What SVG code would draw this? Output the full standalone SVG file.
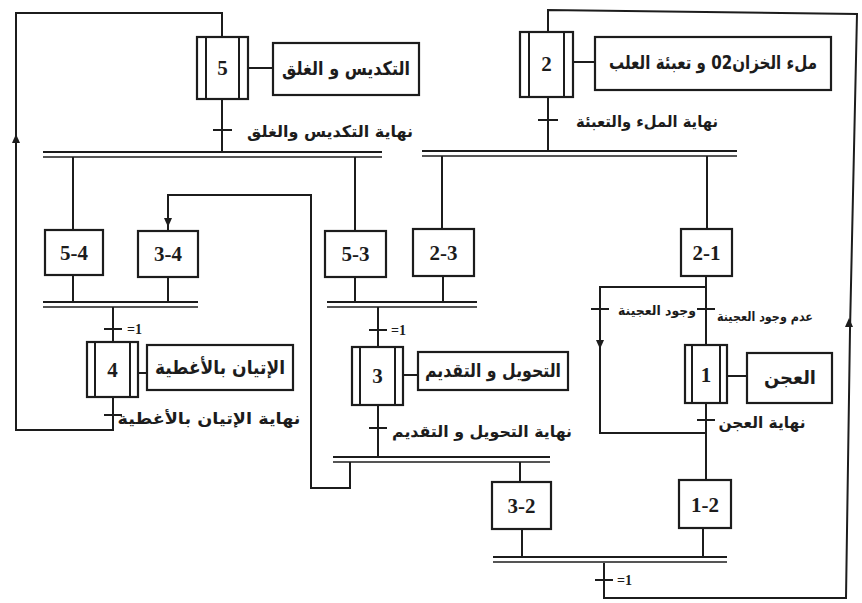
<svg xmlns="http://www.w3.org/2000/svg" width="862" height="603" viewBox="0 0 862 603">
  <defs>
    <style>
      .ln { fill: none; stroke: #1c1c1c; stroke-width: 2; }
      .box { fill: #ffffff; stroke: #1c1c1c; stroke-width: 2.2; }
      .bar { stroke: #1c1c1c; stroke-width: 2.2; }
      .bar2 { stroke: #555555; stroke-width: 2; }
      .num { font-family: "Liberation Serif", "DejaVu Serif", serif; font-weight: bold; font-size: 21px; fill: #1c1c1c; text-anchor: middle; }
      .ar { font-family: "DejaVu Sans", "Noto Sans", sans-serif; font-weight: bold; fill: #1c1c1c; text-anchor: middle; direction: rtl; }
      .act { font-size: 19px; }
      .tr { font-size: 16px; }
      .sm { font-size: 13px; }
      .eq { font-family: "Liberation Serif", serif; font-weight: bold; font-size: 14px; fill: #1c1c1c; }
    </style>
    <path id="arrUp" d="M0,-6 L4,3 L-4,3 Z" fill="#1c1c1c"/>
    <path id="arrDown" d="M0,6 L4,-3 L-4,-3 Z" fill="#1c1c1c"/>
  </defs>
  <rect width="862" height="603" fill="#ffffff"/>

  <!-- links, transitions and loops -->
  <g id="connectors">
    <!-- return loop to step 5 -->
    <path class="ln" d="M113,397 V430 H16 V13 H222 V37"/>
    <use href="#arrUp" x="16" y="140"/>
    <!-- return loop to step 2 -->
    <path class="ln" d="M604,562 V598 H846 L850,330 L857,14 L548,10 V32"/>
    <use href="#arrUp" x="849" y="324"/>
    <!-- step 5 to bar A -->
    <path class="ln" d="M222,99 V152"/>
    <path class="ln" d="M213,130 H232"/>
    <!-- bar A -->
    <line class="bar" x1="43" y1="152" x2="382" y2="152"/>
    <line class="bar2" x1="43" y1="157" x2="382" y2="157"/>
    <path class="ln" d="M73,157 V230"/>
    <path class="ln" d="M355,157 V231"/>
    <!-- step 2 to bar B -->
    <path class="ln" d="M548,97 V151"/>
    <path class="ln" d="M538,120 H558"/>
    <line class="bar" x1="422" y1="151" x2="737" y2="151"/>
    <line class="bar2" x1="422" y1="156" x2="737" y2="156"/>
    <path class="ln" d="M442,156 V229"/>
    <path class="ln" d="M707,156 V229"/>
    <!-- bar C and step 4 -->
    <path class="ln" d="M73,275 V302"/>
    <path class="ln" d="M168,277 V302"/>
    <line class="bar" x1="43" y1="302" x2="198" y2="302"/>
    <line class="bar2" x1="43" y1="307" x2="198" y2="307"/>
    <path class="ln" d="M113,307 V342"/>
    <path class="ln" d="M104,329 H122"/>
    <path class="ln" d="M104,415 H122"/>
    <!-- bar D and step 3 -->
    <path class="ln" d="M355,277 V302"/>
    <path class="ln" d="M443,276 V302"/>
    <line class="bar" x1="327" y1="302" x2="477" y2="302"/>
    <line class="bar2" x1="327" y1="307" x2="477" y2="307"/>
    <path class="ln" d="M378,307 V347"/>
    <path class="ln" d="M369,330 H387"/>
    <path class="ln" d="M378,405 V457"/>
    <path class="ln" d="M369,428 H387"/>
    <!-- bar E -->
    <line class="bar" x1="333" y1="457" x2="550" y2="457"/>
    <line class="bar2" x1="333" y1="462" x2="550" y2="462"/>
    <path class="ln" d="M350,462 V488 H311 V195 H168 V231"/>
    <use href="#arrDown" x="168" y="221"/>
    <path class="ln" d="M520,462 V482"/>
    <!-- step 1 with its bypass -->
    <path class="ln" d="M706,276 V345"/>
    <path class="ln" d="M706,287 H600 V433 H706"/>
    <use href="#arrDown" x="600" y="343"/>
    <path class="ln" d="M591,309 H609"/>
    <path class="ln" d="M697,309 H715"/>
    <path class="ln" d="M706,403 V480"/>
    <path class="ln" d="M697,420 H715"/>
    <!-- bar F -->
    <path class="ln" d="M522,529 V557"/>
    <path class="ln" d="M703,528 V557"/>
    <line class="bar" x1="493" y1="557" x2="727" y2="557"/>
    <line class="bar2" x1="493" y1="562" x2="727" y2="562"/>
    <path class="ln" d="M595,580 H613"/>
    <!-- action links -->
    <path class="ln" d="M248,68 H273"/>
    <path class="ln" d="M573,62 H595"/>
    <path class="ln" d="M138,373 H147"/>
    <path class="ln" d="M403,375 H418"/>
    <path class="ln" d="M727,376 H747"/>
  </g>

  <!-- transition labels -->
  <g id="transition-labels">
    <text class="ar tr" x="330" y="137" textLength="166" lengthAdjust="spacingAndGlyphs">نهاية التكديس والغلق</text>
    <text class="ar tr" x="647" y="127" textLength="142" lengthAdjust="spacingAndGlyphs">نهاية الملء والتعبئة</text>
    <text class="ar tr" x="209" y="424" textLength="183" lengthAdjust="spacingAndGlyphs">نهاية الإتيان بالأغطية</text>
    <text class="ar tr" x="482" y="437" textLength="180" lengthAdjust="spacingAndGlyphs">نهاية التحويل و التقديم</text>
    <text class="ar tr" x="762" y="428" textLength="87" lengthAdjust="spacingAndGlyphs">نهاية العجن</text>
    <text class="ar sm" x="657" y="315" textLength="78" lengthAdjust="spacingAndGlyphs">وجود العجينة</text>
    <text class="ar sm" x="765" y="321" textLength="96" lengthAdjust="spacingAndGlyphs">عدم وجود العجينة</text>
    <text class="eq" x="127" y="334">=1</text>
    <text class="eq" x="391" y="335">=1</text>
    <text class="eq" x="617" y="585">=1</text>
  </g>

  <!-- steps -->
  <g id="step-5">
    <rect class="box" x="197" y="37" width="51" height="62"/>
    <path class="ln" d="M206,37 V99 M239,37 V99"/>
    <text class="num" x="222.5" y="75">5</text>
  </g>
  <g id="action-5">
    <rect class="box" x="273" y="43" width="146" height="52"/>
    <text class="ar act" x="346" y="75" textLength="128" lengthAdjust="spacingAndGlyphs">التكديس و الغلق</text>
  </g>
  <g id="step-2">
    <rect class="box" x="520" y="32" width="53" height="65"/>
    <path class="ln" d="M529,32 V97 M564,32 V97"/>
    <text class="num" x="546.5" y="71">2</text>
  </g>
  <g id="action-2">
    <rect class="box" x="595" y="37" width="236" height="53"/>
    <text class="ar act" x="713" y="69" textLength="208" lengthAdjust="spacingAndGlyphs">ملء الخزان02 و تعبئة العلب</text>
  </g>
  <g id="step-4">
    <rect class="box" x="87" y="342" width="51" height="55"/>
    <path class="ln" d="M95,342 V397 M130,342 V397"/>
    <text class="num" x="112.5" y="377">4</text>
  </g>
  <g id="action-4">
    <rect class="box" x="147" y="345" width="146" height="45"/>
    <text class="ar act" x="220" y="374" textLength="130" lengthAdjust="spacingAndGlyphs">الإتيان بالأغطية</text>
  </g>
  <g id="step-3">
    <rect class="box" x="352" y="347" width="51" height="58"/>
    <path class="ln" d="M360,347 V405 M395,347 V405"/>
    <text class="num" x="377.5" y="383">3</text>
  </g>
  <g id="action-3">
    <rect class="box" x="418" y="352" width="150" height="38"/>
    <text class="ar act" x="493" y="377" textLength="136" lengthAdjust="spacingAndGlyphs">التحويل و التقديم</text>
  </g>
  <g id="step-1">
    <rect class="box" x="685" y="345" width="42" height="58"/>
    <path class="ln" d="M692,345 V403 M720,345 V403"/>
    <text class="num" x="706" y="382">1</text>
  </g>
  <g id="action-1">
    <rect class="box" x="747" y="353" width="85" height="50"/>
    <text class="ar act" x="790" y="384" textLength="52" lengthAdjust="spacingAndGlyphs">العجن</text>
  </g>

  <!-- link boxes -->
  <g id="link-5-4">
    <rect class="box" x="45" y="230" width="58" height="45"/>
    <text class="num" x="74" y="260">5-4</text>
  </g>
  <g id="link-3-4">
    <rect class="box" x="138" y="231" width="60" height="46"/>
    <text class="num" x="168" y="261">3-4</text>
  </g>
  <g id="link-5-3">
    <rect class="box" x="325" y="231" width="61" height="46"/>
    <text class="num" x="355.5" y="261">5-3</text>
  </g>
  <g id="link-2-3">
    <rect class="box" x="413" y="229" width="61" height="47"/>
    <text class="num" x="443.5" y="260">2-3</text>
  </g>
  <g id="link-2-1">
    <rect class="box" x="681" y="229" width="51" height="47"/>
    <text class="num" x="706.5" y="260">2-1</text>
  </g>
  <g id="link-3-2">
    <rect class="box" x="492" y="482" width="59" height="47"/>
    <text class="num" x="521.5" y="513">3-2</text>
  </g>
  <g id="link-1-2">
    <rect class="box" x="679" y="480" width="52" height="48"/>
    <text class="num" x="705" y="512">1-2</text>
  </g>
</svg>
